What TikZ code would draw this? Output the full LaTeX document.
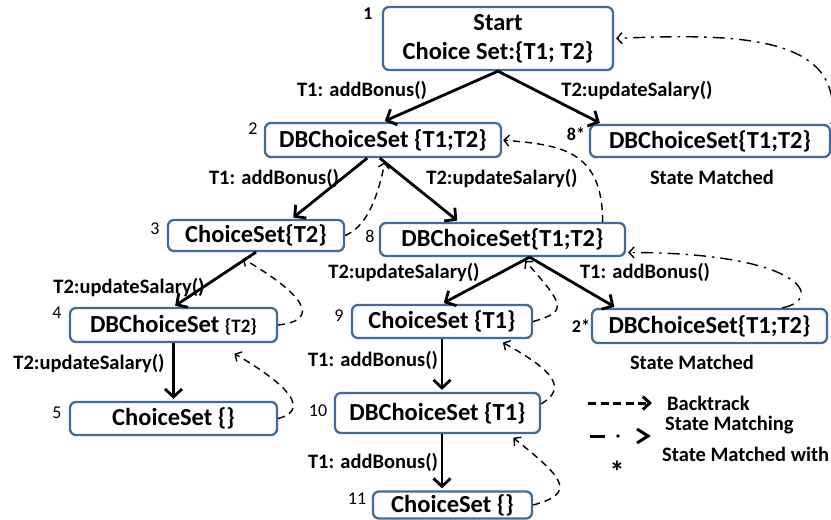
\documentclass[tikz,border=0pt]{standalone}
\usepackage{fontspec}
\setmainfont{Carlito}
\usepackage{tikz}
\usetikzlibrary{arrows.meta}
\usetikzlibrary{calc}

\definecolor{boxblue}{RGB}{66,106,154}

\begin{document}
\begin{tikzpicture}[x=1pt, y=-1pt,
    state/.style={draw=boxblue, line width=2.3pt, rounded corners=6pt, fill=white, inner sep=1pt, font=\fontsize{24.5}{29}\selectfont\bfseries},
    move/.style={line width=2.8pt, shorten >=2pt, -{Straight Barb[length=8pt,width=17pt]}},
    back/.style={line width=1.4pt, dash pattern=on 7pt off 5pt, shorten >=1pt, -{Straight Barb[length=5pt,width=11pt]}},
    match/.style={line width=1.4pt, dash pattern=on 12pt off 6pt on 2.5pt off 6pt, shorten >=2pt, -{Straight Barb[length=5pt,width=11pt]}},
    legendline/.style={line width=3pt},
    lbl/.style={font=\fontsize{20.5}{23}\selectfont\bfseries, inner sep=0pt},
    num/.style={font=\fontsize{18}{20}\selectfont, inner sep=0pt}]
\useasboundingbox (0,0) rectangle (831,520);

% states
\node[state, minimum width=230pt, minimum height=63pt, align=center] (n1) at (498,38.5) {Start\\Choice Set:\{T1; T2\}};
\node[state, minimum width=236pt, minimum height=34pt] (n2) at (383,140) {DBChoiceSet \{T1;T2\}};
\node[state, minimum width=240pt, minimum height=32pt] (n8s) at (710,141) {DBChoiceSet\{T1;T2\}};
\node[state, minimum width=176pt, minimum height=31pt] (n3) at (256,235.5) {ChoiceSet\{T2\}};
\node[state, minimum width=245pt, minimum height=33pt] (n8) at (502.5,239.5) {DBChoiceSet\{T1;T2\}};
\node[state, minimum width=207pt, minimum height=34pt] (n4) at (173.5,325) {DBChoiceSet {\fontsize{19}{21}\selectfont\{T2\}}};
\node[state, minimum width=180pt, minimum height=33pt] (n9) at (442,321.5) {ChoiceSet \{T1\}};
\node[state, minimum width=235pt, minimum height=34pt] (n2s) at (709.5,326) {DBChoiceSet\{T1;T2\}};
\node[state, minimum width=207pt, minimum height=33pt] (n5) at (173.5,418.5) {ChoiceSet \{\}};
\node[state, minimum width=205pt, minimum height=40pt] (n10) at (437.5,413) {DBChoiceSet \{T1\}};
\node[state, minimum width=159pt, minimum height=27pt] (n11) at (452.5,505) {ChoiceSet \{\}};

% numbers
\node[num, font=\fontsize{18}{20}\selectfont\bfseries] (k1) at (368,14) {1};
\node[num] (k2) at (253,129) {2};
\node[num, font=\fontsize{18}{20}\selectfont\bfseries] (k8s) at (576,134) {8*};
\node[num] (k3) at (155,229) {3};
\node[num] (k8) at (370,236) {8};
\node[num] (k4) at (57,313) {4};
\node[num] (k9) at (339,316) {9};
\node[num, font=\fontsize{18}{20}\selectfont\bfseries] (k2s) at (581,326) {2*};
\node[num] (k5) at (57,413) {5};
\node[num] (k10) at (318,411) {10};
\node[num] (k11) at (357,499) {11};

% moves
\draw[move] (n1.south) -- (n2.north);
\draw[move] (n1.south) -- (n8s.171);
\draw[move] (n2.229) -- (n3.25);
\draw[move] (n2.260) -- (n8.158);
\draw[move] (n3.south) -- (n4.north);
\draw[move] (n4.south) -- (n5.north);
\draw[move] (n8.327) -- (n9.north);
\draw[move] (n8.327) -- (n2s.169);
\draw[move] (n9.south) -- (n9.south |- n10.north);
\draw[move] (n9.south |- n10.south) -- (n9.south |- n11.north);

\node[lbl] (m1) at (362,90) {T1: addBonus()};
\node[lbl] (m2) at (637,91) {T2:updateSalary()};
\node[lbl] (m3) at (274,178) {T1: addBonus()};
\node[lbl] (m4) at (502,178) {T2:updateSalary()};
\node[lbl] (m5) at (129,287) {T2:updateSalary()};
\node[lbl] (m6) at (404,272) {T2:updateSalary()};
\node[lbl] (m7) at (645,272) {T1: addBonus()};
\node[lbl] (m8) at (89,363) {T2:updateSalary()};
\node[lbl] (m9) at (373,360) {T1: addBonus()};
\node[lbl] (m10) at (373,462) {T1: addBonus()};
\node[lbl] (sm1) at (712,177) {State Matched};
\node[lbl] (sm2) at (692,362) {State Matched};

% backtracking
\draw[back] (n3.east) .. controls +(20,-8) and +(-8,40) .. ($(n2.south)+(2,3)$);
\draw[back] (n4.east) .. controls +(45,-5) and +(60,35) .. ($(n3.south)+(-14,6)$);
\draw[back] (n5.east) .. controls +(30,-8) and +(60,35) .. ($(n4.south)+(60,10)$);
\draw[back] (n8.10) .. controls +(0,-73) and +(57,5) .. (n2.east);
\draw[back] (n9.east) .. controls +(35,-10) and +(40,45) .. ($(n8.south)+(22,3)$);
\draw[back] (n10.5) .. controls +(25,-15) and +(55,30) .. ($(n9.south)+(60,3)$);
\draw[back] (n11.east) .. controls +(45,-12) and +(50,40) .. ($(n10.south)+(75,3)$);

% state matching
\draw[match] (n8s.north east) .. controls +(15,-90) and +(120,-5) .. (n1.east);
\draw[match] (n2s.14) .. controls +(44,-9) and +(175,0) .. (n8.354);

% legend
\coordinate (bk1) at (588,403);
\coordinate (bk2) at (652,403);
\coordinate (mt1) at (590,436);
\coordinate (mt2) at (648,436);
\draw[legendline, dash pattern=on 8pt off 4.5pt, -{Straight Barb[length=7pt,width=13pt]}] (bk1) -- (bk2);
\draw[legendline] (mt1) -- ++(15,0);
\fill (618,436) circle (1.8pt);
\draw[legendline, miter limit=4] ($(mt2)+(-11,-7)$) -- (mt2) -- ($(mt2)+(-11,7)$);
\node[lbl, anchor=west] (t1) at (667,403) {Backtrack};
\node[lbl, anchor=west] (t2) at (665,425) {State Matching};
\node[lbl, font=\fontsize{30}{30}\selectfont\bfseries] (t3) at (617,472) {*};
\node[lbl, anchor=west] (t4) at (662,454) {State Matched with};
\end{tikzpicture}
\end{document}
